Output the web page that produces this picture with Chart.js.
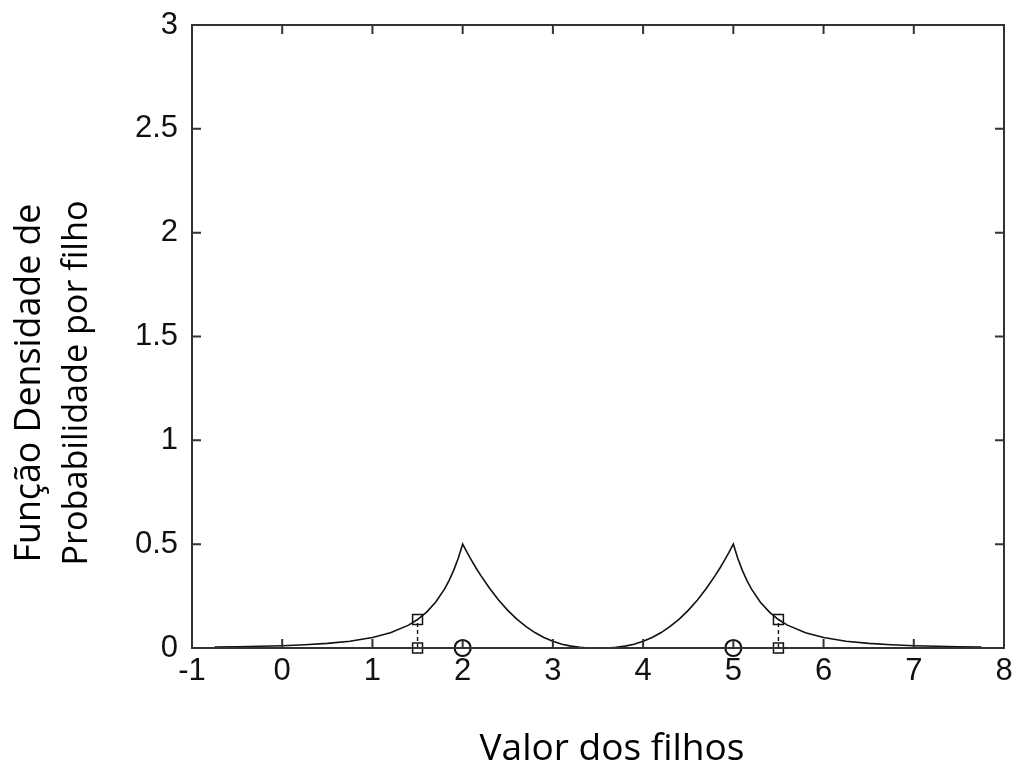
<!DOCTYPE html>
<html lang="pt">
<head>
<meta charset="utf-8">
<title>Função Densidade de Probabilidade por filho</title>
<script src="https://cdn.jsdelivr.net/npm/chart.js@4/dist/chart.umd.min.js"></script>
<style>
    html, body { margin: 0; padding: 0; background: #ffffff; }
    #grafico { display: block; }
</style>
</head>
<body>
<canvas id="grafico" width="1021" height="773"></canvas>
<script>
/* ── DADOS ──
 Curvas de densidade dos filhos em torno de cada pai (x = 2 e x = 5). */
var xEsquerda = [-0.75, -0.5, -0.25, 0, 0.25, 0.5, 0.75, 1, 1.2, 1.4, 1.5, 1.6, 1.7, 1.8, 1.85, 1.9, 1.95, 2,
    2.05, 2.1, 2.15, 2.2, 2.3, 2.4, 2.5, 2.6, 2.7, 2.8, 2.9, 3, 3.1, 3.2, 3.3, 3.35];
var yEsquerda = [0.0046, 0.0061, 0.0081, 0.011, 0.0154, 0.0221, 0.0327, 0.0502, 0.0731, 0.11, 0.137, 0.1726, 0.2202, 0.2847, 0.3256, 0.374, 0.4314, 0.5,
    0.4593, 0.4208, 0.3842, 0.3497, 0.2862, 0.2302, 0.1814, 0.1394, 0.1039, 0.0744, 0.0506, 0.0321, 0.0184, 0.0089, 0.0032, 0.0016];

var xDireita = [3.65, 3.7, 3.8, 3.9, 4, 4.1, 4.2, 4.3, 4.4, 4.5, 4.6, 4.7, 4.8, 4.85, 4.9, 4.95, 5,
    5.05, 5.1, 5.15, 5.2, 5.3, 5.4, 5.5, 5.6, 5.8, 6, 6.25, 6.5, 6.75, 7, 7.25, 7.5, 7.75];
var yDireita = [0.0016, 0.0032, 0.0089, 0.0184, 0.0321, 0.0506, 0.0744, 0.1039, 0.1394, 0.1814, 0.2302, 0.2862, 0.3497, 0.3842, 0.4208, 0.4593, 0.5,
    0.4314, 0.374, 0.3256, 0.2847, 0.2202, 0.1726, 0.137, 0.11, 0.0731, 0.0502, 0.0327, 0.0221, 0.0154, 0.011, 0.0081, 0.0061, 0.0046];

/* Filhos marcados (quadrados) e pais (círculos) */
var xFilhos = [1.5, 5.5];
var yFilhos = [0.137, 0.137];
var xPais = [2, 5];

/* Eixos */
var ticksX = [-1, 0, 1, 2, 3, 4, 5, 6, 7, 8];
var ticksY = [0, 0.5, 1, 1.5, 2, 2.5, 3];

var tituloX = 'Valor dos filhos';
var tituloY = ['Função Densidade de', 'Probabilidade por filho'];

/* Junta duas listas em pontos {x, y} */
function pontos(xs, ys) {
    return xs.map(function (x, i) { return { x: x, y: ys[i] }; });
}

/* Linha tracejada vertical de um filho marcado até o eixo */
function segmentoFilho(i) {
    return {
        data: [{ x: xFilhos[i], y: 0 }, { x: xFilhos[i], y: yFilhos[i] }],
        showLine: true,
        borderColor: '#111',
        borderWidth: 1.4,
        borderDash: [4, 3],
        pointStyle: 'rect',
        pointRadius: 7,
        pointBorderColor: '#111',
        pointBorderWidth: 1.5,
        pointBackgroundColor: 'rgba(0,0,0,0)',
        clip: false
    };
}

/* ── PLUGIN: moldura e marcas internas (estilo gnuplot) + títulos ── */
var molduraPlugin = {
    id: 'moldura',
    afterDraw: function (chart) {
        var ctx = chart.ctx;
        var a = chart.chartArea;
        var sx = chart.scales.x, sy = chart.scales.y;
        var comp = 9;
        ctx.save();
        ctx.strokeStyle = '#333';
        ctx.lineWidth = 2;
        ctx.strokeRect(a.left, a.top, a.right - a.left, a.bottom - a.top);
        ctx.beginPath();
        ticksX.forEach(function (v) {
            var px = sx.getPixelForValue(v);
            ctx.moveTo(px, a.bottom); ctx.lineTo(px, a.bottom - comp);
            ctx.moveTo(px, a.top); ctx.lineTo(px, a.top + comp);
        });
        ticksY.forEach(function (v) {
            var py = sy.getPixelForValue(v);
            ctx.moveTo(a.left, py); ctx.lineTo(a.left + comp, py);
            ctx.moveTo(a.right, py); ctx.lineTo(a.right - comp, py);
        });
        ctx.stroke();

        /* títulos dos eixos, fonte ajustada à largura desejada */
        ctx.fillStyle = '#000';
        ctx.textAlign = 'center';
        ctx.textBaseline = 'alphabetic';
        function fonteParaLargura(texto, largura) {
            ctx.font = '40px "Open Sans"';
            var w = ctx.measureText(texto).width;
            return 40 * largura / w;
        }
        var tx = fonteParaLargura(tituloX, 265);
        ctx.font = tx + 'px "Open Sans"';
        ctx.fillText(tituloX, 612, 760);

        ctx.translate(0, 383);
        ctx.rotate(-Math.PI / 2);
        var t1 = fonteParaLargura(tituloY[0], 359);
        ctx.font = t1 + 'px "Open Sans"';
        ctx.fillText(tituloY[0], 0, 40);
        var t2 = fonteParaLargura(tituloY[1], 365);
        ctx.font = t2 + 'px "Open Sans"';
        ctx.fillText(tituloY[1], 0, 87);
        ctx.restore();
    }
};

/* Rótulo do tick sem casas decimais forçadas: 3, 2.5, 2 ... */
function rotulo(v) { return String(v); }

var fonteTicks = { family: '"Liberation Sans", Arial, sans-serif', size: 31 };

new Chart(document.getElementById('grafico'), {
    type: 'scatter',
    data: {
        datasets: [
            {
                data: pontos(xEsquerda, yEsquerda),
                showLine: true,
                borderColor: '#111',
                borderWidth: 1.6,
                pointRadius: 0,
                tension: 0
            },
            {
                data: pontos(xDireita, yDireita),
                showLine: true,
                borderColor: '#111',
                borderWidth: 1.6,
                pointRadius: 0,
                tension: 0
            },
            segmentoFilho(0),
            segmentoFilho(1),
            {
                data: xPais.map(function (x) { return { x: x, y: 0 }; }),
                showLine: false,
                pointStyle: 'circle',
                pointRadius: 8,
                pointBorderColor: '#111',
                pointBorderWidth: 2.2,
                pointBackgroundColor: 'rgba(0,0,0,0)',
                clip: false
            }
        ]
    },
    options: {
        responsive: false,
        animation: false,
        events: [],
        layout: { padding: { top: 25, right: 17, left: 0, bottom: 0 } },
        plugins: {
            legend: { display: false },
            tooltip: { enabled: false }
        },
        scales: {
            x: {
                type: 'linear',
                min: -1,
                max: 8,
                afterFit: function (s) {
                    s.height = 125;
                    s.paddingLeft = 0; s.paddingRight = 0;
                },
                afterBuildTicks: function (s) { s.ticks = ticksX.map(function (v) { return { value: v }; }); },
                grid: { display: false, drawTicks: false },
                border: { display: false },
                ticks: { padding: 5, color: '#111', callback: rotulo, font: fonteTicks }
            },
            y: {
                type: 'linear',
                min: 0,
                max: 3,
                afterFit: function (s) {
                    s.width = 192;
                    s.paddingTop = 0; s.paddingBottom = 0;
                },
                afterBuildTicks: function (s) { s.ticks = ticksY.map(function (v) { return { value: v }; }); },
                grid: { display: false, drawTicks: false },
                border: { display: false },
                ticks: { padding: 14, color: '#111', callback: rotulo, font: fonteTicks }
            }
        }
    },
    plugins: [molduraPlugin]
});
</script>
</body>
</html>
